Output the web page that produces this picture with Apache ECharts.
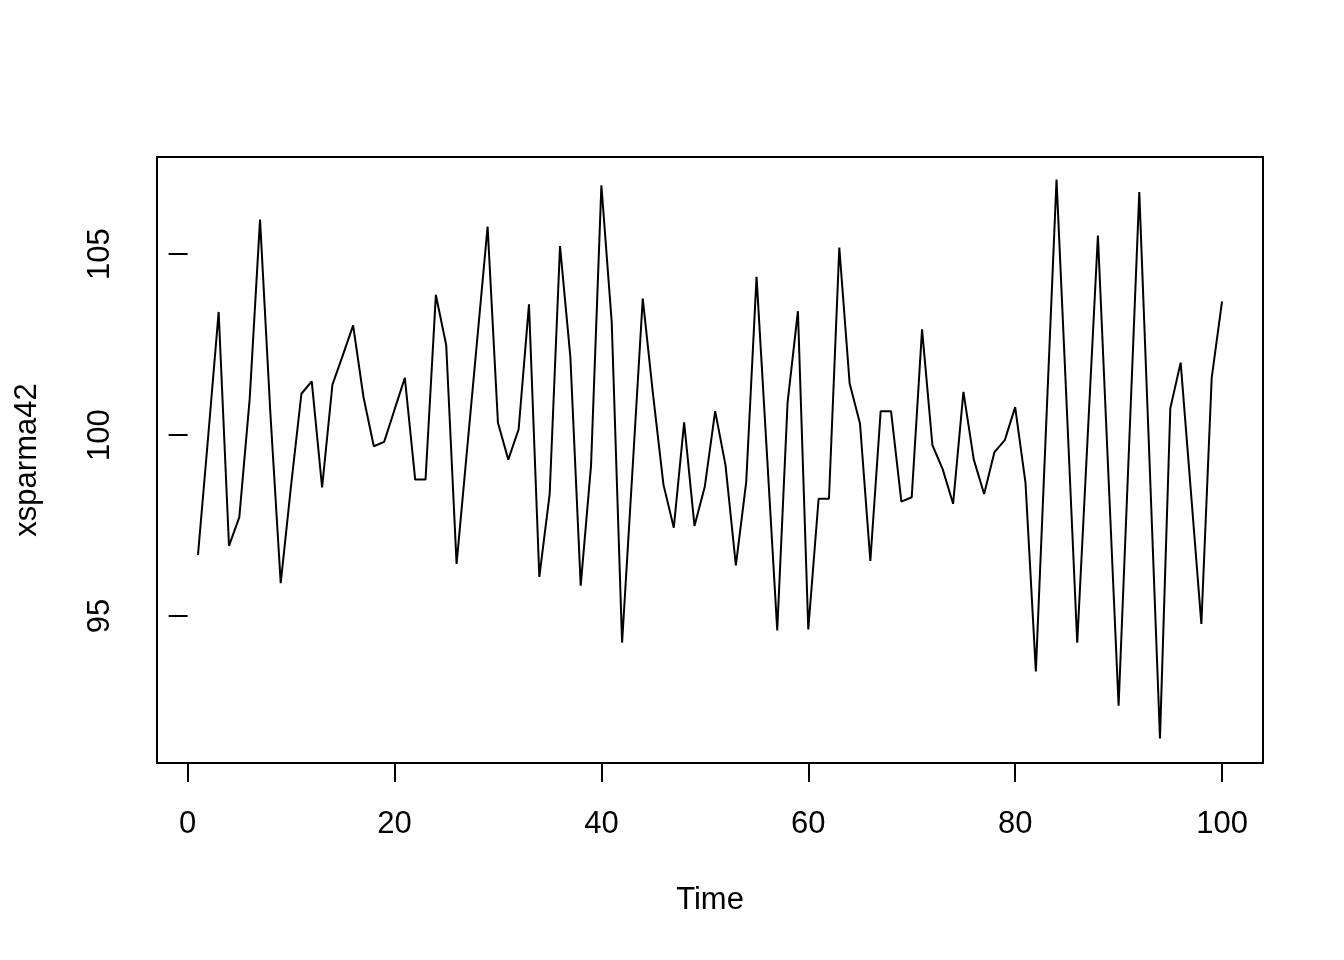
<!DOCTYPE html>
<html>
<head>
<meta charset="utf-8">
<script src="https://cdn.jsdelivr.net/npm/echarts@6/dist/echarts.min.js"></script>
<style>
html,body{margin:0;padding:0;background:#fff;}
#chart{width:1344px;height:960px;}
</style>
</head>
<body>
<div id="chart"></div>
<script>
// Series values (xsparma42), time index 1..100
const values = [
  96.68, 100.0, 103.40, 96.94, 97.73, 101.0, 105.95, 100.6, 95.91, 98.6,
  101.14, 101.48, 98.55, 101.39, 102.2, 103.03, 101.05, 99.69, 99.81, 100.70,
  101.58, 98.77, 98.77, 103.87, 102.48, 96.44, 99.55, 102.65, 105.76, 100.34,
  99.32, 100.16, 103.61, 96.08, 98.37, 105.22, 102.16, 95.84, 99.16, 106.90,
  103.11, 94.26, 99.0, 103.77, 101.1, 98.63, 97.44, 100.35, 97.49, 98.58,
  100.66, 99.16, 96.40, 98.7, 104.37, 99.5, 94.60, 100.90, 103.42, 94.63,
  98.24, 98.24, 105.18, 101.42, 100.32, 96.52, 100.66, 100.66, 98.16, 98.28,
  102.92, 99.72, 99.05, 98.10, 101.19, 99.32, 98.37, 99.53, 99.86, 100.77,
  98.68, 93.47, 100.3, 107.06, 100.7, 94.26, 99.9, 105.51, 99.0, 92.52,
  99.6, 106.71, 99.2, 91.62, 100.74, 102.0, 98.4, 94.78, 101.58, 103.69
];
const time = values.map((_, i) => i + 1);
const xTicks = [0, 20, 40, 60, 80, 100];
const yTicks = [95, 100, 105];
const xTitle = 'Time';
const yTitle = 'xsparma42';

const data = time.map((t, i) => [t, values[i]]);
const font = 'Liberation Sans, Arial, sans-serif';

const chart = echarts.init(document.getElementById('chart'), null, {renderer: 'canvas'});
chart.setOption({
  animation: false,
  backgroundColor: '#ffffff',
  grid: {
    left: 157, top: 157, right: 81, bottom: 197,
    show: true, borderColor: '#000', borderWidth: 2, backgroundColor: 'transparent'
  },
  xAxis: {
    type: 'value',
    min: -2.96, max: 103.96,
    axisLine: {show: false},
    splitLine: {show: false},
    axisTick: {show: true, customValues: xTicks, length: 19, lineStyle: {color: '#000', width: 2}},
    axisLabel: {customValues: xTicks, color: '#000', fontSize: 31, fontFamily: font, margin: 61, verticalAlign: 'middle'},
    name: xTitle,
    nameLocation: 'middle',
    nameGap: 137,
    nameTextStyle: {color: '#000', fontSize: 31, fontFamily: font, verticalAlign: 'middle'}
  },
  yAxis: {
    type: 'value',
    min: 90.94, max: 107.68,
    axisLine: {show: false},
    splitLine: {show: false},
    axisTick: {show: true, customValues: yTicks, length: 19, lineStyle: {color: '#000', width: 2}},
    axisLabel: {customValues: yTicks, color: '#000', fontSize: 31, fontFamily: font, rotate: 90, margin: 57, verticalAlign: 'middle'},
    name: yTitle,
    nameLocation: 'middle',
    nameGap: 130,
    nameTextStyle: {color: '#000', fontSize: 31, fontFamily: font, verticalAlign: 'middle'}
  },
  series: [{
    type: 'line',
    data: data,
    showSymbol: false,
    lineStyle: {color: '#000', width: 2},
    itemStyle: {color: '#000'}
  }]
});
</script>
</body>
</html>
